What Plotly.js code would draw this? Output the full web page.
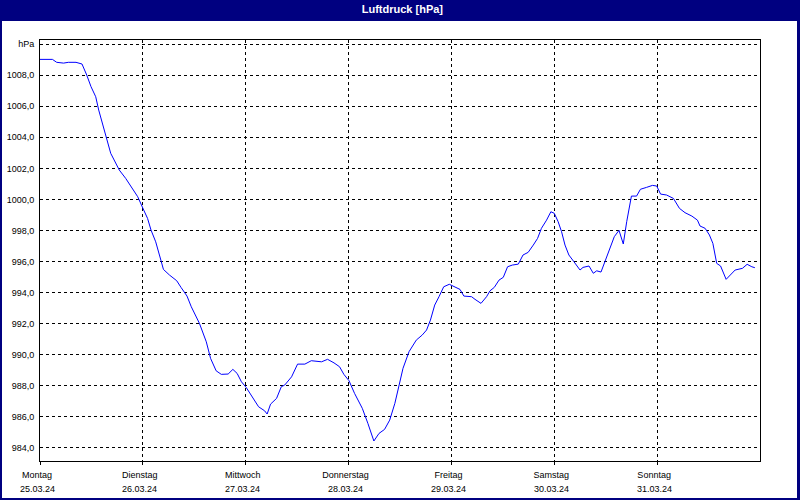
<!DOCTYPE html>
<html>
<head>
<meta charset="utf-8">
<script src="https://cdn.plot.ly/plotly-3.0.1.min.js"></script>
<style>
  html, body { margin: 0; padding: 0; background: #ffffff; }
  #chart { width: 800px; height: 500px; }
</style>
</head>
<body>
<div id="chart"></div>
<script>
// Hours since Montag 25.03.24 00:00
const hours = [
  0.0, 2.9, 3.9, 5.5, 6.6, 8.4, 9.8, 10.3, 10.9, 11.9,
  13.0, 13.7, 14.6, 15.6, 16.5, 17.3, 18.5, 20.0, 21.6, 22.8,
  24.2, 25.1, 25.9, 27.0, 28.2, 28.8, 30.2, 31.9, 32.9, 33.7,
  34.3, 35.3, 37.2, 38.8, 39.8, 41.1, 42.3, 43.9, 45.0, 46.0,
  47.0, 48.1, 49.7, 51.0, 52.4, 53.0, 53.8, 55.2, 56.3, 57.1,
  58.7, 60.1, 61.8, 63.3, 65.7, 67.1, 68.6, 69.9, 70.9, 72.1,
  73.4, 75.2, 76.5, 77.3, 77.9, 79.1, 80.4, 81.6, 82.8, 83.8,
  84.7, 86.1, 87.8, 89.2, 90.2, 91.1, 92.1, 93.1, 94.2, 95.5,
  96.6, 98.0, 98.9, 100.7, 101.5, 102.9, 104.2, 105.0, 106.0, 107.1,
  108.1, 109.1, 110.2, 111.6, 112.7, 113.9, 115.1, 116.1, 117.0, 118.2,
  119.2, 120.0, 120.9, 121.7, 122.5, 123.4, 124.6, 126.0, 126.7, 128.1,
  129.1, 129.9, 130.9, 131.8, 133.0, 134.0, 135.1, 136.1, 136.9, 138.0,
  139.2, 140.1, 141.5, 142.9, 143.9, 144.8, 146.2, 147.8, 149.2, 150.5,
  152.1, 153.4, 154.0, 155.2, 156.2, 157.0, 157.9, 158.8, 160.1, 161.4,
  162.2, 163.9, 165.0, 166.1, 166.8
];
// Luftdruck in hPa
const pressure = [
  1009.03, 1009.03, 1008.84, 1008.79, 1008.84, 1008.84, 1008.73, 1008.45, 1008.02, 1007.27,
  1006.62, 1005.76, 1004.90, 1004.00, 1002.97, 1002.54, 1001.89, 1001.35, 1000.71, 1000.17,
  999.31, 998.77, 998.02, 997.26, 996.08, 995.48, 995.12, 994.75, 994.32, 994.00,
  993.76, 993.07, 992.00, 990.81, 989.74, 988.94, 988.71, 988.73, 989.03, 988.77,
  988.23, 987.87, 987.16, 986.62, 986.36, 986.15, 986.79, 987.16, 987.91, 988.02,
  988.55, 989.37, 989.37, 989.59, 989.52, 989.68, 989.45, 989.20, 988.71, 988.30,
  987.48, 986.52, 985.55, 984.90, 984.41, 984.90, 985.16, 985.76, 986.84, 988.02,
  989.10, 990.17, 990.92, 991.25, 991.57, 992.21, 993.18, 993.72, 994.36, 994.52,
  994.36, 994.19, 993.76, 993.72, 993.55, 993.29, 993.72, 994.10, 994.32, 994.79,
  994.97, 995.65, 995.76, 995.82, 996.41, 996.58, 997.05, 997.48, 998.13, 998.66,
  999.20, 999.10, 998.56, 997.91, 997.05, 996.41, 995.97, 995.44, 995.61, 995.70,
  995.23, 995.39, 995.31, 995.97, 996.84, 997.59, 998.00, 997.12, 998.56, 1000.21,
  1000.21, 1000.65, 1000.77, 1000.90, 1000.86, 1000.34, 1000.28, 1000.06, 999.42, 999.14,
  998.92, 998.66, 998.28, 998.13, 997.70, 997.16, 995.87, 995.70, 994.84, 995.23,
  995.44, 995.55, 995.81, 995.65, 995.59
];

const dayTicks = [0, 24, 48, 72, 96, 120, 144];
const dayNames = ["Montag", "Dienstag", "Mittwoch", "Donnerstag", "Freitag", "Samstag", "Sonntag"];
const dayDates = ["25.03.24", "26.03.24", "27.03.24", "28.03.24", "29.03.24", "30.03.24", "31.03.24"];

const yTickVals = [984, 986, 988, 990, 992, 994, 996, 998, 1000, 1002, 1004, 1006, 1008, 1010];
const yTickText = ["984,0", "986,0", "988,0", "990,0", "992,0", "994,0", "996,0", "998,0",
                   "1000,0", "1002,0", "1004,0", "1006,0", "1008,0", "hPa"];

const FONT = "Liberation Sans, Arial, sans-serif";
const NAVY = "#000080";

// pixel -> paper helpers for the window frame (plot area: x 40..760, y 40..461)
const px = v => (v - 40) / 720;
const py = v => (461 - v) / 421;

const trace = {
  x: hours,
  y: pressure,
  type: "scatter",
  mode: "lines",
  line: { color: "#0000ff", width: 1 },
  hoverinfo: "x+y"
};

const dateAnnotations = dayTicks.map((t, i) => ({
  x: t, xref: "x", y: 0, yref: "paper",
  yshift: -28, xshift: -3,
  text: dayDates[i], showarrow: false,
  xanchor: "center", yanchor: "middle",
  font: { family: FONT, size: 9, color: "#000000" }
}));

const layout = {
  width: 800, height: 500,
  margin: { l: 40, r: 40, t: 40, b: 39, pad: 0 },
  paper_bgcolor: "#ffffff",
  plot_bgcolor: "#ffffff",
  showlegend: false,
  font: { family: FONT, size: 9, color: "#000000" },
  title: {
    text: "Luftdruck [hPa]",
    font: { family: FONT, size: 11, color: "#ffffff", weight: "bold" },
    xref: "container", yref: "container",
    x: 0.503, y: 0.981, xanchor: "center", yanchor: "middle"
  },
  xaxis: {
    range: [0, 168],
    tickmode: "array", tickvals: dayTicks, ticktext: dayNames,
    showgrid: true, gridcolor: "#000000", gridwidth: 1, griddash: "3px,3px",
    showline: true, mirror: true, linecolor: "#000000", linewidth: 1,
    ticks: "outside", ticklen: 3, tickcolor: "#000000", tickwidth: 1,
    zeroline: false,
    ticklabelshift: -3, ticklabelstandoff: 2,
    tickfont: { family: FONT, size: 9, color: "#000000" },
    fixedrange: true
  },
  yaxis: {
    range: [983.12, 1010.28],
    tickmode: "array", tickvals: yTickVals, ticktext: yTickText,
    showgrid: true, gridcolor: "#000000", gridwidth: 1, griddash: "3px,3px",
    showline: true, mirror: true, linecolor: "#000000", linewidth: 1,
    ticks: "", zeroline: false,
    ticklabelstandoff: 3,
    tickfont: { family: FONT, size: 9, color: "#000000" },
    fixedrange: true
  },
  shapes: [
    { type: "rect", xref: "paper", yref: "paper", x0: px(-5), x1: px(805), y0: py(21), y1: py(-5),
      fillcolor: NAVY, line: { width: 0 }, layer: "above" },
    { type: "rect", xref: "paper", yref: "paper", x0: px(-5), x1: px(2), y0: py(505), y1: py(-5),
      fillcolor: NAVY, line: { width: 0 }, layer: "above" },
    { type: "rect", xref: "paper", yref: "paper", x0: px(797), x1: px(805), y0: py(505), y1: py(-5),
      fillcolor: NAVY, line: { width: 0 }, layer: "above" },
    { type: "rect", xref: "paper", yref: "paper", x0: px(-5), x1: px(805), y0: py(505), y1: py(498),
      fillcolor: NAVY, line: { width: 0 }, layer: "above" }
  ],
  annotations: dateAnnotations
};

Plotly.newPlot("chart", [trace], layout, { displayModeBar: false, staticPlot: true });
</script>
</body>
</html>
